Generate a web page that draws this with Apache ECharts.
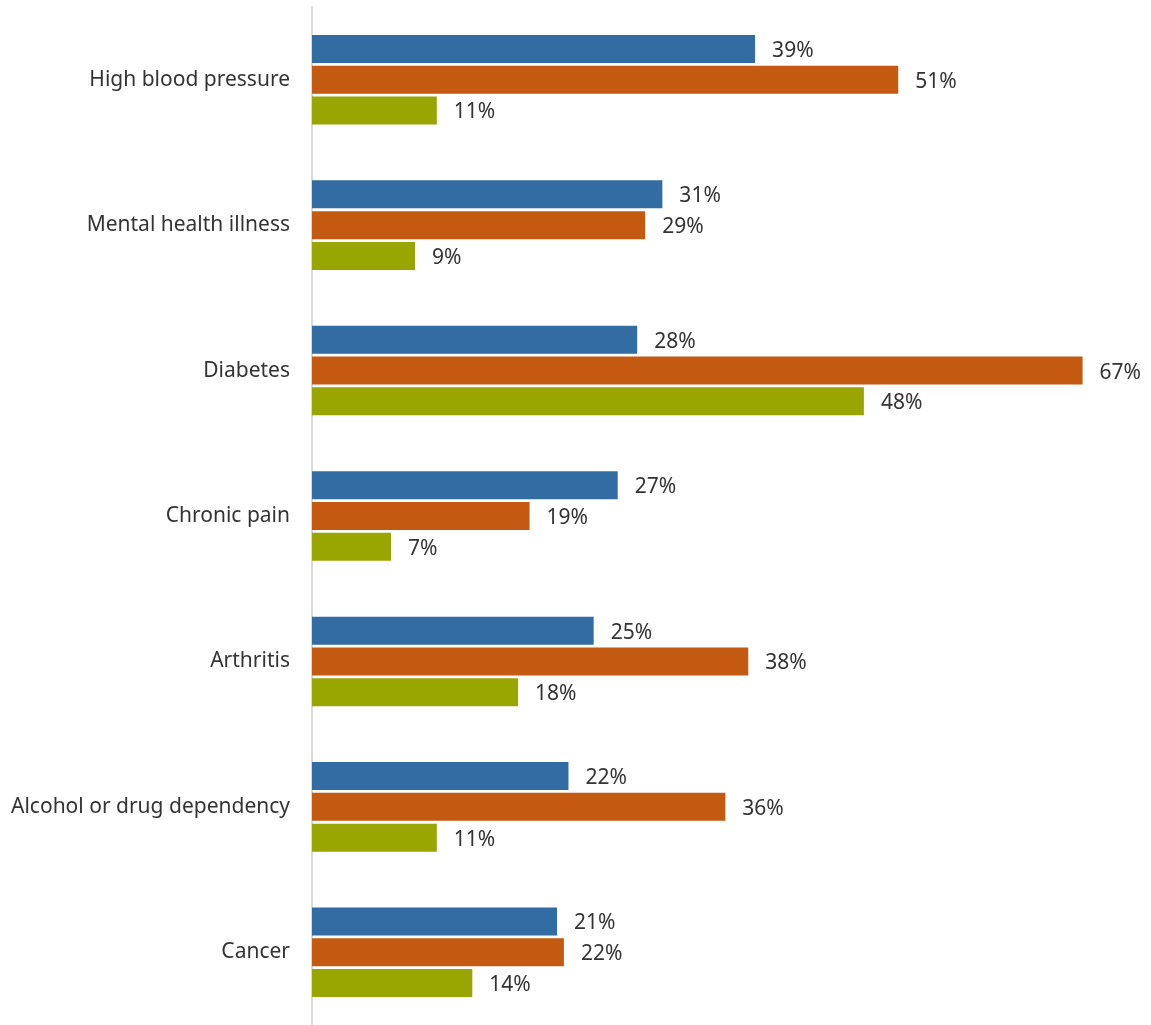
<!DOCTYPE html>
<html><head><meta charset="utf-8">
<script src="https://cdn.jsdelivr.net/npm/echarts@6/dist/echarts.min.js"></script>
<style>html,body{margin:0;padding:0;background:#fff}#c{width:1151px;height:1025px}</style>
</head><body><div id="c"></div>
<script>
const categories = ["High blood pressure","Mental health illness","Diabetes","Chronic pain","Arthritis","Alcohol or drug dependency","Cancer"];
const seriesA = [38.7, 30.6, 28.4, 26.7, 24.6, 22.4, 21.4];
const seriesB = [51.2, 29.1, 67.3, 19.0, 38.1, 36.1, 22.0];
const seriesC = [10.9, 9.0, 48.2, 6.9, 18.0, 10.9, 14.0];
const colors = ['#336ba3', '#c45911', '#99a500'];

const chart = echarts.init(document.getElementById('c'), null, {renderer:'canvas'});
function mk(name, data, color){
  return {
    name, type:'bar', data, barWidth:28, barGap:'10%',
    itemStyle:{color},
    label:{show:true, position:'right', distance:17, offset:[0,2], fontSize:21, color:'#333',
      fontFamily:'Noto Sans', formatter:p=>Math.round(p.value)+'%'}
  };
}
chart.setOption({
  animation:false,
  grid:{left:312, top:7, width:801.5, height:1024},
  xAxis:{type:'value', min:0, max:70, show:false},
  yAxis:{type:'category', data:categories, inverse:true,
    axisLine:{show:true, lineStyle:{color:'#d9d9d9', width:2}},
    axisTick:{show:false},
    axisLabel:{fontSize:21, color:'#333', margin:22, fontFamily:'Noto Sans', padding:[6,0,0,0]}},
  series:[mk('A',seriesA,colors[0]), mk('B',seriesB,colors[1]), mk('C',seriesC,colors[2])]
});
</script></body></html>
